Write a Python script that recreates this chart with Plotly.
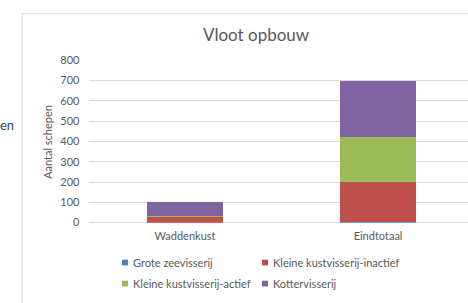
import plotly.graph_objects as go

categories = ["Waddenkust", "Eindtotaal"]
series_names = ["Grote zeevisserij", "Kleine kustvisserij-inactief",
                "Kleine kustvisserij-actief", "Kottervisserij"]
grote = [0, 5]
inactief = [28, 194]
actief = [6, 225]
kotter = [66, 276]
y_ticks = [0, 100, 200, 300, 400, 500, 600, 700, 800]

colors = ["#4f81bd", "#c0504d", "#9bbb59", "#8064a2"]
W, H = 468, 303
FONT = "Lato"
TXT = "#595959"

def px(x):
    return x / W

def py(y):
    return 1 - y / H

fig = go.Figure()
for name, vals, c in zip(series_names, [grote, inactief, actief, kotter], colors):
    fig.add_trace(go.Bar(x=categories, y=vals, name=name, marker_color=c,
                         marker_line_width=0, width=0.394, showlegend=False,
                         hoverinfo="skip"))

fig.update_layout(
    width=W, height=H, autosize=False,
    margin=dict(l=0, r=0, t=0, b=0),
    barmode="stack",
    plot_bgcolor="white", paper_bgcolor="white",
    font=dict(family=FONT, size=11, color=TXT),
    xaxis=dict(domain=[px(88.5), 1], range=[-0.5, 1.466], showgrid=False,
               showline=False, ticks="", ticklabelstandoff=5,
               tickfont=dict(size=11, color=TXT)),
    yaxis=dict(domain=[py(225.3), py(55.7)], range=[0, 800], tickvals=y_ticks,
               showgrid=True, gridcolor="#d9d9d9", gridwidth=1,
               zeroline=True, zerolinecolor="#d9d9d9", zerolinewidth=1,
               showline=False, ticks="", ticklabelstandoff=8,
               tickfont=dict(size=11, color=TXT)),
)

# chart border
fig.add_shape(type="rect", xref="paper", yref="paper",
              x0=px(22), y0=py(330), x1=px(500), y1=py(7),
              line=dict(color="#d9d9d9", width=1), layer="below")

annotations = [
    dict(text="Vloot opbouw", x=px(256), y=py(29), font=dict(size=17, color=TXT),
         xanchor="center", yanchor="middle"),
    dict(text="Aantal schepen", x=px(48), y=py(141), textangle=-90,
         font=dict(size=11, color=TXT), xanchor="center", yanchor="middle"),
    dict(text="en", x=px(-2), y=py(123), font=dict(size=13, color="#1f5068"),
         xanchor="left", yanchor="middle"),
]

leg_pos = [(122, 267), (262, 267), (122, 289), (262, 289)]
for name, c, (lx, ly) in zip(series_names, colors, leg_pos):
    fig.add_shape(type="rect", xref="paper", yref="paper",
                  x0=px(lx), x1=px(lx + 6), y0=py(ly + 3), y1=py(ly - 3),
                  fillcolor=c, line=dict(width=0))
    annotations.append(dict(text=name, x=px(lx + 9), y=py(ly),
                            font=dict(size=11, color=TXT),
                            xanchor="left", yanchor="middle"))

for a in annotations:
    a.update(xref="paper", yref="paper", showarrow=False)
fig.update_layout(annotations=annotations)

css_fix = (
    "var s=document.createElement('style');"
    "s.textContent='html,body{margin:0!important;padding:0!important;overflow:hidden!important;}';"
    "document.head.appendChild(s);"
)
fig.write_html("out.html", config={"displayModeBar": False}, post_script=css_fix)
